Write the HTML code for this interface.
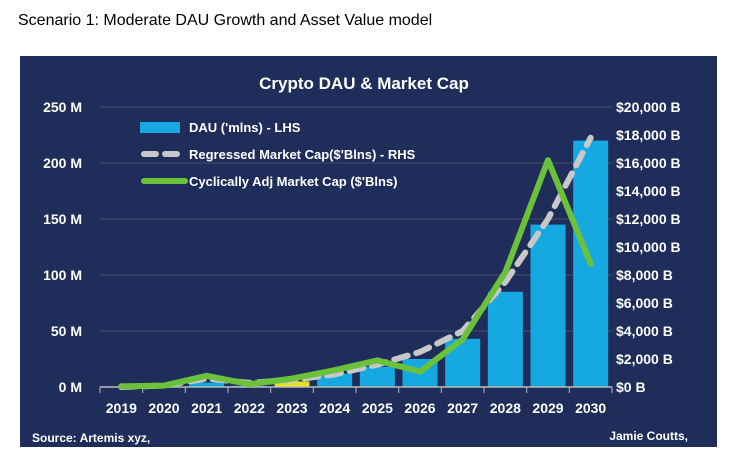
<!DOCTYPE html>
<html><head><meta charset="utf-8"><style>
body{margin:0;background:#fff;width:736px;height:467px;overflow:hidden;font-family:"Liberation Sans",sans-serif}
#hdr{position:absolute;left:18px;top:12px;font-size:16px;color:#000}
</style></head><body>
<div id="hdr">Scenario 1: Moderate DAU Growth and Asset Value model</div>
<svg id="c" width="736" height="467" style="position:absolute;left:0;top:0"></svg>
<script>
const years=["2019","2020","2021","2022","2023","2024","2025","2026","2027","2028","2029","2030"];
const dau=[0.3,0.5,4,1,5,12,18,25,43,85,145,220];
const regressed=[0,100,600,300,500,900,1600,2500,4000,7500,12000,17800];
const cyclical=[50,100,800,200,600,1200,1900,1100,3400,8200,16200,8800];
const leftTicks=[0,50,100,150,200,250];
const rightTicks=[0,2000,4000,6000,8000,10000,12000,14000,16000,18000,20000];
const NS="http://www.w3.org/2000/svg",svg=document.getElementById('c');
function mk(t,a,txt){const e=document.createElementNS(NS,t);for(const k in a)e.setAttribute(k,a[k]);if(txt!==undefined)e.textContent=txt;svg.appendChild(e);return e;}
const X0=100,X1=612,Y0=387,Y1=107,bw=(X1-X0)/years.length;
const yL=v=>Y0-(v/250)*(Y0-Y1), yR=v=>Y0-(v/20000)*(Y0-Y1), xc=i=>X0+bw*(i+0.5);
let e=mk('rect',{x:20,y:56,width:697,height:391,fill:'#1f2d5a'});

e=mk('text',{x:364,y:89,fill:'#fff','font-size':17,'font-weight':'bold','text-anchor':'middle'},'Crypto DAU & Market Cap');

leftTicks.forEach(v=>{
 if(v>0){e=mk('line',{x1:X0,x2:X1,y1:yL(v),y2:yL(v),stroke:'#3f4a66','stroke-width':1.2});}
 e=mk('text',{x:82,y:yL(v)+5,fill:'#fff','font-size':14,'font-weight':'bold','text-anchor':'end'},v+' M');
 
});
rightTicks.forEach(v=>{
 e=mk('text',{x:616,y:yR(v)+5,fill:'#fff','font-size':14,'font-weight':'bold'},'$'+v.toLocaleString('en-US')+' B');
 
});
dau.forEach((v,i)=>{
 e=mk('rect',{x:xc(i)-17.5,y:yL(v),width:35,height:Y0-yL(v),fill:i==4?'#e8e020':'#16a9e1'});
 
});
e=mk('line',{x1:X0,x2:X1,y1:Y0,y2:Y0,stroke:'#bbb','stroke-width':1.5});

for(let i=0;i<=years.length;i++){e=mk('line',{x1:X0+bw*i,x2:X0+bw*i,y1:Y0,y2:Y0+6,stroke:'#bbb'});}
years.forEach((y,i)=>{e=mk('text',{x:xc(i),y:413,fill:'#fff','font-size':14,'font-weight':'bold','text-anchor':'middle'},y);});
e=mk('polyline',{points:regressed.map((v,i)=>xc(i)+','+yR(v)).join(' '),fill:'none',stroke:'#c8c8c8','stroke-width':6,'stroke-dasharray':'14 9','stroke-linecap':'round'});

e=mk('polyline',{points:cyclical.map((v,i)=>xc(i)+','+yR(v)).join(' '),fill:'none',stroke:'#6cc13a','stroke-width':6,'stroke-linejoin':'round','stroke-linecap':'round'});

e=mk('rect',{x:140,y:122,width:40,height:11,fill:'#16a9e1'});
e=mk('line',{x1:144,x2:185,y1:154,y2:154,stroke:'#c8c8c8','stroke-width':6,'stroke-dasharray':'12 9','stroke-linecap':'round'});
e=mk('line',{x1:144,x2:185,y1:181,y2:181,stroke:'#6cc13a','stroke-width':6,'stroke-linecap':'round'});
[["DAU ('mlns) - LHS",132],["Regressed Market Cap($'Blns) - RHS",159],["Cyclically Adj Market Cap ($'Blns)",186]].forEach(([t,y])=>{
 e=mk('text',{x:189,y:y,fill:'#fff','font-size':13,'font-weight':'bold'},t);});
e=mk('text',{x:32,y:442,fill:'#fff','font-size':12,'font-weight':'bold'},'Source: Artemis xyz,');
e=mk('text',{x:688,y:440,fill:'#fff','font-size':12,'font-weight':'bold','text-anchor':'end'},'Jamie Coutts,');
</script>
</body></html>
